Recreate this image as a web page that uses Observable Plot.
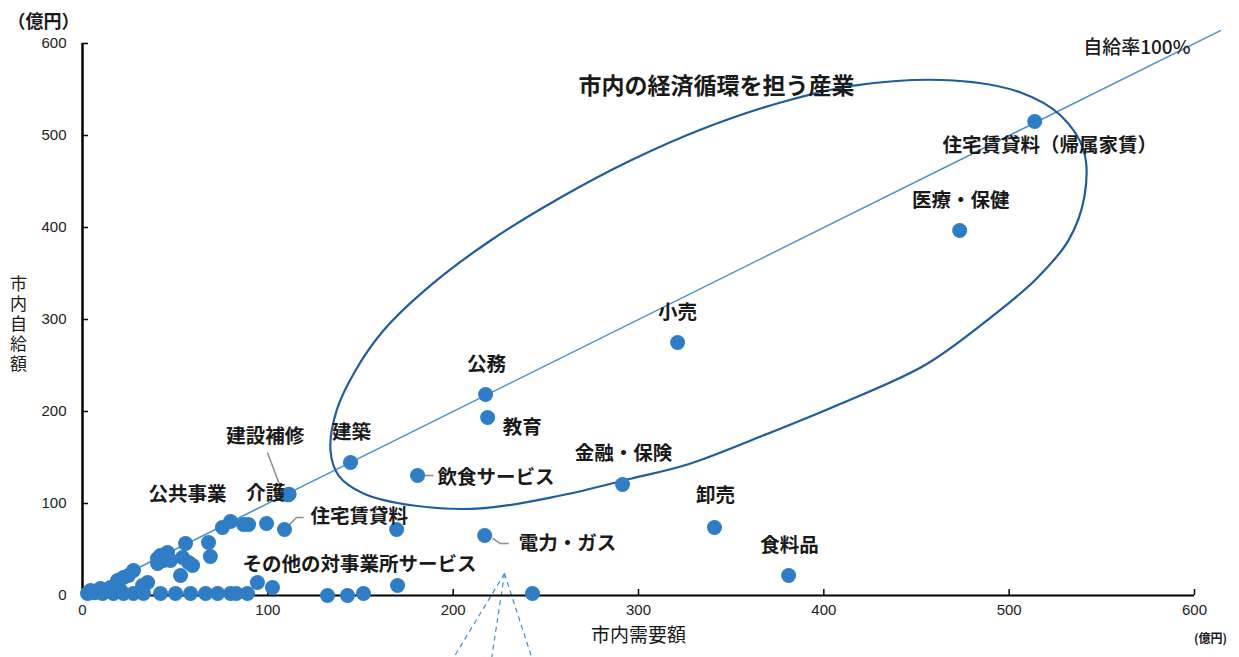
<!DOCTYPE html>
<html>
<head>
<meta charset="utf-8">
<script src="https://cdn.jsdelivr.net/npm/d3@7"></script>
<script src="https://cdn.jsdelivr.net/npm/@observablehq/plot@0.6"></script>
<style>
  html, body { margin: 0; padding: 0; background: #fff; }
  svg { display: block; }
</style>
</head>
<body>
<div id="chart"></div>
<script>
// ---- data (億円) ----
const sectorNames = [
  "住宅賃貸料（帰属家賃）", "医療・保健", "小売", "公務", "教育", "建築", "飲食サービス",
  "金融・保険", "卸売", "食料品", "電力・ガス", "建設補修", "介護", "住宅賃貸料",
  "その他の対事業所サービス", "公共事業",
  "", "", "", "", "", "", "", "", "", "", "", "", "", "", "", "", "", "", "", "",
  "", "", "", "", "", "", "", "", "", "", "", "", "", "", "", "", "", "", "", "",
  "", "", "", "", "", "", "", "", ""
];
const cityDemand = [
  513.8, 473.3, 321.1, 217.5, 218.6, 144.6, 180.8,
  291.4, 341.0, 381.0, 217.0, 111.5, 110.8, 109.0,
  170.0, 79.9,
  169.5, 242.8, 75.5, 86.9, 89.6, 99.3, 68.0, 69.0, 55.6, 45.9, 40.5, 54.0, 59.4, 52.9, 43.7, 47.5, 27.5, 22.1, 18.9, 35.1,
  32.4, 9.7, 15.1, 4.3, 20.5, 24.8, 2.7, 10.8, 16.7, 22.1, 27.5, 32.9, 42.1, 50.2, 58.3, 66.4, 72.9, 79.9, 89.0, 94.4,
  102.5, 132.2, 143.0, 151.6, 42.1, 57.2, 40.5, 83.0, 6.5
];
const citySupply = [
  515.2, 396.7, 275.0, 218.5, 193.5, 144.6, 130.4,
  120.7, 73.9, 21.7, 65.2, 110.0, 109.4, 71.7,
  10.9, 80.4,
  71.7, 2.2, 73.9, 77.2, 77.2, 78.3, 57.6, 42.4, 56.5, 46.7, 40.2, 41.3, 32.6, 21.7, 38.0, 38.0, 27.2, 19.6, 16.3, 14.1,
  10.9, 7.6, 8.7, 5.4, 5.4, 21.7, 2.2, 2.2, 2.2, 2.2, 2.2, 2.2, 2.2, 2.2, 2.2, 2.2, 2.2, 2.2, 2.2, 14.1,
  8.7, 0.0, 0.0, 2.2, 43.5, 35.9, 34.8, 2.2, 3.0
];
const xTickValues = [0, 100, 200, 300, 400, 500, 600];
const yTickValues = [0, 100, 200, 300, 400, 500, 600];
const parityExtent = [0, 614];           // 自給率100% line, y = x
const labelledSectors = [
  "住宅賃貸料（帰属家賃）", "医療・保健", "小売", "公務", "教育", "建築", "飲食サービス",
  "金融・保険", "卸売", "食料品", "電力・ガス", "建設補修", "介護", "住宅賃貸料",
  "その他の対事業所サービス", "公共事業"
];
// outline of the "市内の経済循環を担う産業" ellipse (data units)
const ellipseX = [133.8, 137.1, 147.3, 162.4, 187.8, 220.2, 258.0, 295.7, 335.1, 376.7, 416.1, 470.0, 506.2, 527.8, 540.2,
                  540.7, 532.0, 514.3, 492.7, 455.1, 409.4, 365.9, 326.4, 296.3, 258.0, 214.8, 178.6, 151.6, 138.2];
const ellipseY = [157.6, 201.1, 244.6, 288.0, 337.0, 385.9, 432.6, 472.8, 507.6, 535.9, 554.3, 559.8, 546.7, 521.7, 483.7,
                  434.8, 386.0, 343.5, 306.5, 251.1, 208.7, 172.8, 142.4, 127.2, 108.7, 94.6, 97.8, 110.9, 130.4];
// leader lines (data units)
const leaderX1 = [99.8, 184.6, 111.7, 115.5, 221.2, 225.6];
const leaderY1 = [155.4, 130.4, 77.2, 84.8, 62.0, 56.5];
const leaderX2 = [106.9, 189.4, 115.5, 119.3, 225.6, 229.9];
const leaderY2 = [117.4, 130.4, 84.8, 84.8, 56.5, 56.5];
// dashed callout lines leaving the bottom of the chart
const calloutX1 = [227.7, 227.7, 227.7];
const calloutY1 = [23.9, 23.9, 23.9];
const calloutX2 = [200.3, 220.8, 242.4];
const calloutY2 = [-67.4, -67.4, -67.4];

// ---- build tables ----
const points = sectorNames.map((name, i) => ({name, x: cityDemand[i], y: citySupply[i]}));
const ellipse = ellipseX.map((x, i) => ({x, y: ellipseY[i]}));
const leaders = leaderX1.map((x1, i) => ({x1, y1: leaderY1[i], x2: leaderX2[i], y2: leaderY2[i]}));
const callouts = calloutX1.map((x1, i) => ({x1, y1: calloutY1[i], x2: calloutX2[i], y2: calloutY2[i]}));

// label styling (pixel offsets from the dot)
const labelStyle = {
  "住宅賃貸料（帰属家賃）": {dx: 15, dy: 24, anchor: "middle"},
  "医療・保健": {dx: 1, dy: -30, anchor: "middle"},
  "小売": {dx: 0, dy: -30, anchor: "middle"},
  "公務": {dx: 1, dy: -30, anchor: "middle"},
  "教育": {dx: 15, dy: 10, anchor: "start"},
  "建築": {dx: 1, dy: -30, anchor: "middle"},
  "飲食サービス": {dx: 20, dy: 2, anchor: "start"},
  "金融・保険": {dx: 1, dy: -31, anchor: "middle"},
  "卸売": {dx: 1, dy: -32, anchor: "middle"},
  "食料品": {dx: 1, dy: -30, anchor: "middle"},
  "電力・ガス": {dx: 34, dy: 8, anchor: "start"},
  "建設補修": {dx: -24, dy: -58, anchor: "middle"},
  "介護": {dx: -22, dy: -1, anchor: "middle"},
  "住宅賃貸料": {dx: 26, dy: -13, anchor: "start"},
  "その他の対事業所サービス": {dx: -155, dy: -21, anchor: "start"},
  "公共事業": {dx: -43, dy: -27, anchor: "middle"}
};

const cjk = "'Noto Sans CJK JP', 'Noto Sans', sans-serif";
const dotBlue = "#2f7dc5";

const labelMarks = labelledSectors.map(name => {
  const s = labelStyle[name];
  return Plot.text(points.filter(p => p.name === name), {
    x: "x", y: "y", text: "name",
    dx: s.dx, dy: s.dy, textAnchor: s.anchor,
    fontFamily: cjk, fontSize: 19.5, fontWeight: "bold", fill: "#1a1a1a"
  });
});

const chart = Plot.plot({
  width: 1239,
  height: 657,
  marginLeft: 82,
  marginRight: 45,
  marginTop: 43,
  marginBottom: 62,
  x: {domain: [0, 600], label: null},
  y: {domain: [0, 600], label: null},
  style: {fontFamily: "'Liberation Sans', Arial, sans-serif", background: "#fff", color: "#1a1a1a"},
  marks: [
    // self-sufficiency 100% line
    Plot.line(parityExtent, {x: d => d, y: d => d, stroke: "#4690cf", strokeWidth: 1.4}),
    // ellipse
    Plot.line(ellipse, {x: "x", y: "y", curve: "catmull-rom-closed", stroke: "#1f5d9c", strokeWidth: 2.2}),
    // dashed callouts
    Plot.link(callouts, {x1: "x1", y1: "y1", x2: "x2", y2: "y2", stroke: "#3d8fc7", strokeWidth: 1.2, strokeDasharray: "5,4"}),
    // leaders
    Plot.link(leaders, {x1: "x1", y1: "y1", x2: "x2", y2: "y2", stroke: "#8a8a8a", strokeWidth: 1.5}),
    // axes lines
    Plot.ruleX([0], {stroke: "#000", strokeWidth: 2.5}),
    Plot.ruleY([0], {stroke: "#000", strokeWidth: 2}),
    Plot.tickX(xTickValues, {x: d => d, insetTop: 546, stroke: "#000", strokeWidth: 1.5}),
    Plot.tickY(yTickValues, {y: d => d, insetRight: 1106, stroke: "#000", strokeWidth: 1.5}),
    Plot.axisX(xTickValues, {tickSize: 0, tickPadding: 9, fontSize: 15, fill: "#222"}),
    Plot.axisY(yTickValues, {tickSize: 0, tickPadding: 16, fontSize: 15, fill: "#222"}),
    // dots
    Plot.dot(points, {x: "x", y: "y", r: 7.5, fill: dotBlue, stroke: "none"}),
    // labels
    ...labelMarks,
    // annotations
    Plot.text(["自給率100%"], {text: d => d, frameAnchor: "top-right", dx: -4, dy: -3, textAnchor: "end",
      fontFamily: cjk, fontSize: 19, fontWeight: 500, fill: "#1a1a1a"}),
    Plot.text(["市内の経済循環を担う産業"], {text: d => d, frameAnchor: "top", dx: 78, dy: 34,
      fontFamily: cjk, fontSize: 23, fontWeight: "bold", fill: "#1a1a1a"}),
    // axis titles
    Plot.text(["（億円）"], {text: d => d, frameAnchor: "top-left", dx: -39, dy: -28, textAnchor: "middle",
      fontFamily: cjk, fontSize: 18, fontWeight: "bold", fill: "#1a1a1a"}),
    Plot.text(["市内自給額"], {text: d => d, frameAnchor: "left", dx: -64, dy: 0,
      textAnchor: "middle", fontFamily: cjk, fontSize: 17, fill: "#1a1a1a", className: "vertical-title"}),
    Plot.text(["市内需要額"], {text: d => d, frameAnchor: "bottom", dx: 0, dy: 46,
      fontFamily: cjk, fontSize: 19, fill: "#1a1a1a"}),
    Plot.text(["(億円)"], {text: d => d, frameAnchor: "bottom-right", dx: 16, dy: 47, textAnchor: "middle",
      fontFamily: cjk, fontSize: 12, fontWeight: "bold", fill: "#1a1a1a"})
  ]
});
// stack the y-axis title vertically (upright characters)
d3.select(chart).selectAll("text").filter(function () { return this.textContent === "市内自給額"; })
  .attr("dy", null)
  .style("writing-mode", "vertical-rl")
  .style("text-orientation", "upright")
  .style("letter-spacing", "3px");
document.getElementById("chart").appendChild(chart);
</script>
</body>
</html>
